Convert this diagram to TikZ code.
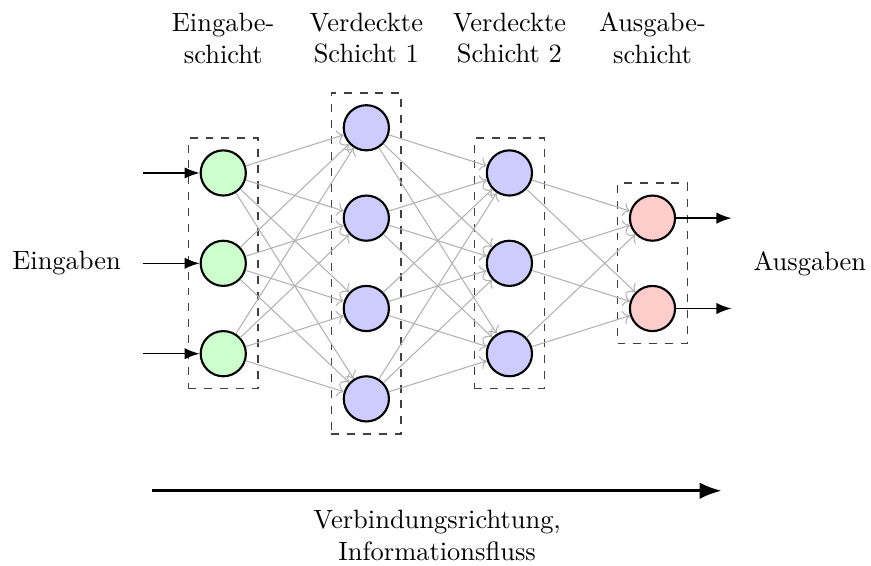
\documentclass[tikz,border=0pt]{standalone}
\usepackage{tikz}
\usetikzlibrary{arrows.meta,fit}

\tikzset{
  neuron/.style={circle, draw=black, thick, minimum size=0.6cm, inner sep=0pt},
  inneuron/.style={neuron, fill=green!20},
  hidneuron/.style={neuron, fill=blue!20},
  outneuron/.style={neuron, fill=red!20},
  layerbox/.style={draw=black!75, dashed, semithick, inner sep=0.15cm},
  conn/.style={-{To}, gray!60, thin},
  io/.style={-{Latex[length=2mm]}, black, semithick},
}

\begin{document}
\begin{tikzpicture}
  \useasboundingbox (-2.965,-4.007) rectangle (8.602,3.497);

  % neurons, layer by layer
  \foreach \i/\y in {1/1.2, 2/0, 3/-1.2}
    \node[inneuron] (in-\i) at (0,\y) {};
  \foreach \i/\y in {1/1.8, 2/0.6, 3/-0.6, 4/-1.8}
    \node[hidneuron] (hA-\i) at (1.9,\y) {};
  \foreach \i/\y in {1/1.2, 2/0, 3/-1.2}
    \node[hidneuron] (hB-\i) at (3.8,\y) {};
  \foreach \i/\y in {1/0.6, 2/-0.6}
    \node[outneuron] (out-\i) at (5.7,\y) {};

  % dashed frames round each layer
  \node[layerbox, fit=(in-1)(in-3)] (box-in) {};
  \node[layerbox, fit=(hA-1)(hA-4)] (box-hA) {};
  \node[layerbox, fit=(hB-1)(hB-3)] (box-hB) {};
  \node[layerbox, fit=(out-1)(out-2)] (box-out) {};

  % weights: every neuron to every neuron of the next layer
  \foreach \i in {1,2,3}
    \foreach \j in {1,...,4}
      \draw[conn] (in-\i) -- (hA-\j);
  \foreach \i in {1,...,4}
    \foreach \j in {1,2,3}
      \draw[conn] (hA-\i) -- (hB-\j);
  \foreach \i in {1,2,3}
    \foreach \j in {1,2}
      \draw[conn] (hB-\i) -- (out-\j);

  % inputs and outputs
  \foreach \i/\y in {1/1.2, 2/0, 3/-1.2}{
    \coordinate (x-\i) at (-1.07,\y);
    \draw[io] (x-\i) -- (in-\i);
  }
  \foreach \i/\y in {1/0.6, 2/-0.6}{
    \coordinate (y-\i) at (6.75,\y);
    \draw[io] (out-\i) -- (y-\i);
  }
  \node (lbl-x) at (-2.08,0) {Eingaben};
  \node (lbl-y) at (7.79,0) {Ausgaben};

  % layer titles
  \node[align=center] (t-in)  at (0,2.99)   {Eingabe-\\schicht};
  \node[align=center] (t-hA)  at (1.9,2.99) {Verdeckte\\Schicht 1};
  \node[align=center] (t-hB)  at (3.8,2.99) {Verdeckte\\Schicht 2};
  \node[align=center] (t-out) at (5.7,2.99) {Ausgabe-\\schicht};

  % direction of flow
  \coordinate (flow-a) at (-0.95,-3.02);
  \coordinate (flow-b) at (6.62,-3.02);
  \draw[very thick, -{Latex}] (flow-a) -- (flow-b);
  \node[align=center, anchor=north] (flow-lbl) at (2.84,-3.15)
    {Verbindungsrichtung,\\Informationsfluss};
\end{tikzpicture}
\end{document}
